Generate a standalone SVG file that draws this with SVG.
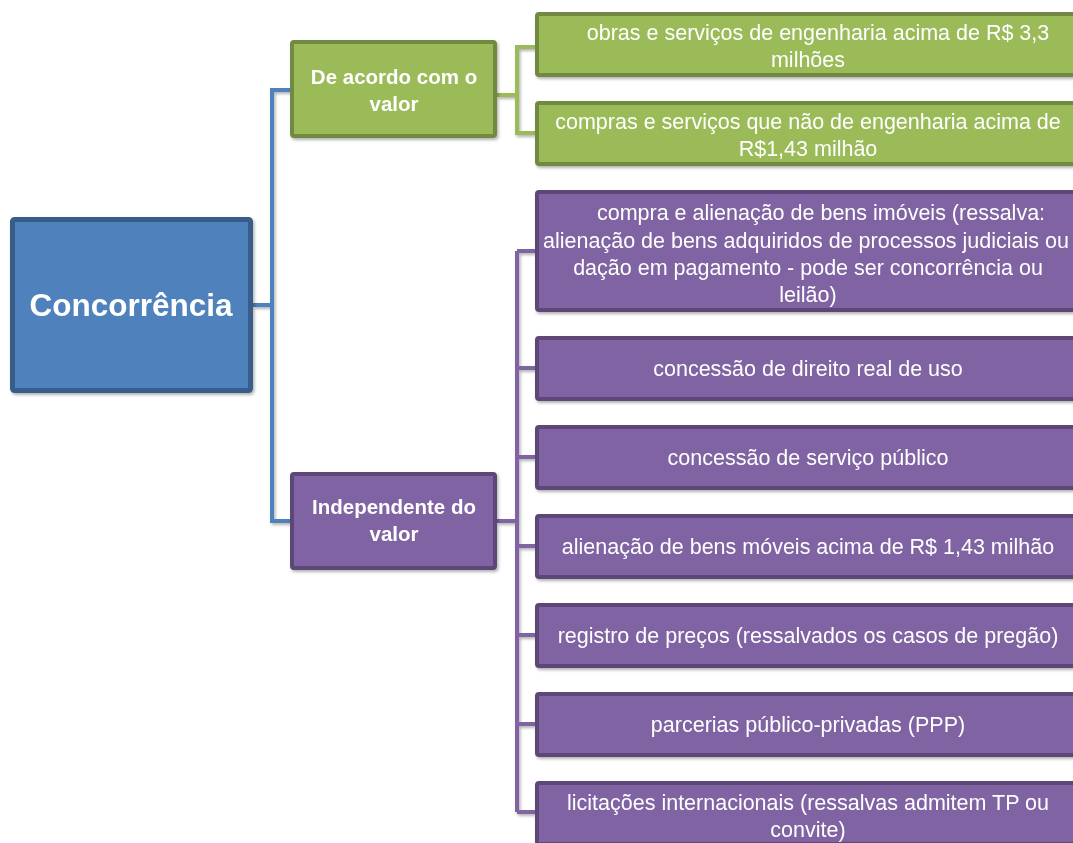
<svg xmlns="http://www.w3.org/2000/svg" width="1073" height="843" viewBox="0 0 1073 843">
<defs>
<filter id="sh" x="-5%" y="-5%" width="115%" height="115%">
<feDropShadow dx="1.5" dy="2" stdDeviation="1.5" flood-color="#000" flood-opacity="0.3"/>
</filter>
</defs>
<style>
.b{fill:#4F81BD;stroke:#385D8A;stroke-width:5}
.g{fill:#9BBB59;stroke:#71893F;stroke-width:4}
.p{fill:#8064A2;stroke:#5C4776;stroke-width:4}
.t{font-family:"Liberation Sans",Arial,sans-serif;fill:#fff;text-anchor:middle;font-size:21.5px}
.tb{font-family:"Liberation Sans",Arial,sans-serif;fill:#fff;text-anchor:middle;font-weight:bold;font-size:20.5px}
.c{fill:none;stroke-width:4;stroke-linejoin:miter;filter:url(#sh)}
</style>
<g id="connectors">
<path class="c" stroke="#4F81BD" d="M253 305 H272 V90 H290 M272 305 V521 H290"/>
<path class="c" stroke="#9BBB59" d="M497 95 H517 V47 H535 M517 95 V133 H535"/>
<path class="c" stroke="#8064A2" d="M497 521 H517 M517 251 V812 M517 251 H535 M517 368 H535 M517 457 H535 M517 546 H535 M517 635 H535 M517 724 H535 M517 812 H535"/>
</g>
<g id="concorrencia" filter="url(#sh)">
<rect class="b" x="12.5" y="219.5" width="238" height="171" rx="2"/>
<text class="tb" x="131" y="316" style="font-size:31.5px">Concorrência</text>
</g>
<g id="de-acordo" filter="url(#sh)">
<rect class="g" x="292" y="42" width="203" height="94" rx="2"/>
<text class="tb" x="394" y="84">De acordo com o</text>
<text class="tb" x="394" y="111">valor</text>
</g>
<g id="independente" filter="url(#sh)">
<rect class="p" x="292" y="474" width="203" height="94" rx="2"/>
<text class="tb" x="394" y="514">Independente do</text>
<text class="tb" x="394" y="541">valor</text>
</g>
<g id="obras" filter="url(#sh)">
<rect class="g" x="537" y="14" width="560" height="61" rx="2"/>
<text class="t" x="818" y="40">obras e serviços de engenharia acima de R$ 3,3</text>
<text class="t" x="808" y="67">milhões</text>
</g>
<g id="compras" filter="url(#sh)">
<rect class="g" x="537" y="103" width="560" height="61" rx="2"/>
<text class="t" x="808" y="129">compras e serviços que não de engenharia acima de</text>
<text class="t" x="808" y="156">R$1,43 milhão</text>
</g>
<g id="imoveis" filter="url(#sh)">
<rect class="p" x="537" y="192" width="560" height="118" rx="2"/>
<text class="t" x="821" y="220">compra e alienação de bens imóveis (ressalva:</text>
<text class="t" x="806" y="248">alienação de bens adquiridos de processos judiciais ou</text>
<text class="t" x="808" y="275">dação em pagamento - pode ser concorrência ou</text>
<text class="t" x="808" y="302">leilão)</text>
</g>
<g id="direito-real" filter="url(#sh)">
<rect class="p" x="537" y="338" width="560" height="61" rx="2"/>
<text class="t" x="808" y="376">concessão de direito real de uso</text>
</g>
<g id="servico-publico" filter="url(#sh)">
<rect class="p" x="537" y="427" width="560" height="61" rx="2"/>
<text class="t" x="808" y="465">concessão de serviço público</text>
</g>
<g id="bens-moveis" filter="url(#sh)">
<rect class="p" x="537" y="516" width="560" height="61" rx="2"/>
<text class="t" x="808" y="554">alienação de bens móveis acima de R$ 1,43 milhão</text>
</g>
<g id="registro" filter="url(#sh)">
<rect class="p" x="537" y="605" width="560" height="61" rx="2"/>
<text class="t" x="808" y="643">registro de preços (ressalvados os casos de pregão)</text>
</g>
<g id="ppp" filter="url(#sh)">
<rect class="p" x="537" y="694" width="560" height="61" rx="2"/>
<text class="t" x="808" y="732">parcerias público-privadas (PPP)</text>
</g>
<g id="internacionais" filter="url(#sh)">
<rect class="p" x="537" y="783" width="560" height="61" rx="2"/>
<text class="t" x="808" y="810">licitações internacionais (ressalvas admitem TP ou</text>
<text class="t" x="808" y="837">convite)</text>
</g>
</svg>
